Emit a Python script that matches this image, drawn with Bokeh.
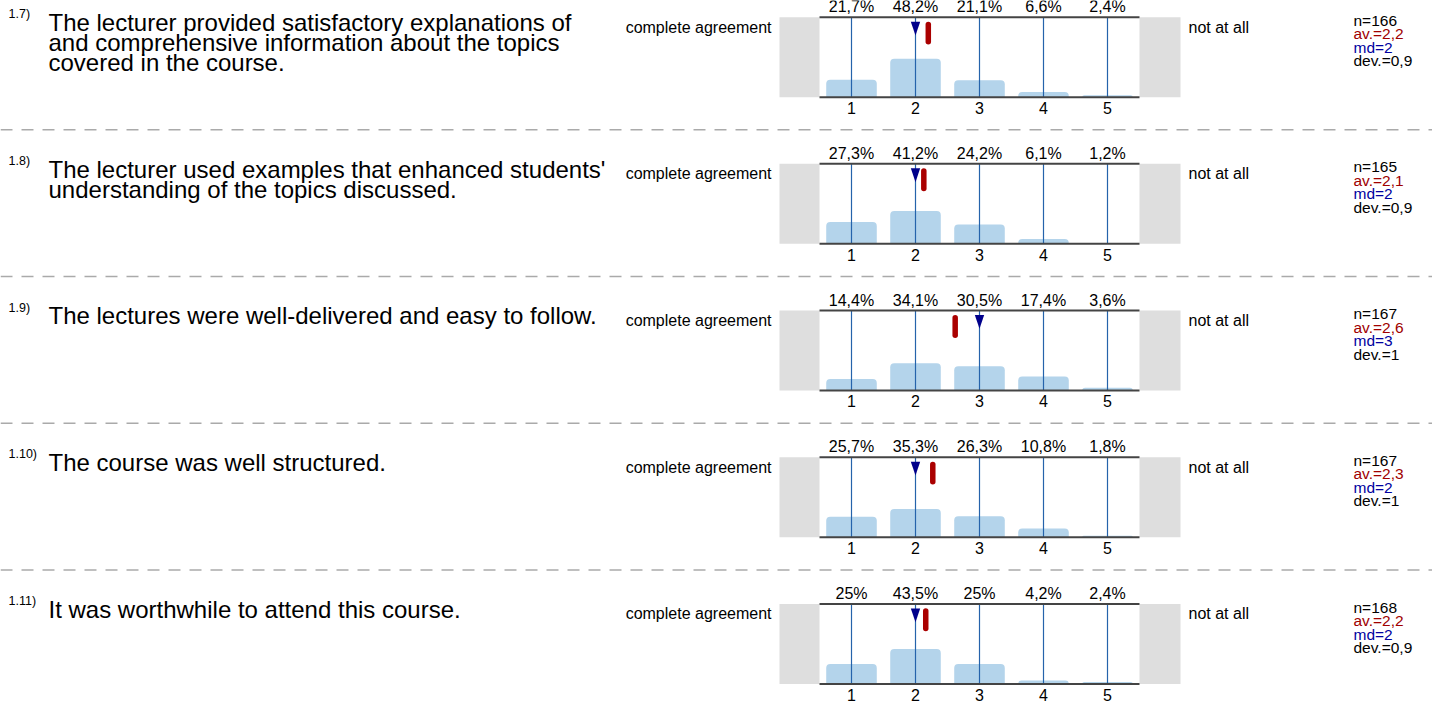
from bokeh.plotting import figure
from bokeh.models import Range1d
from bokeh.core.properties import value
from bokeh.embed import file_html
from bokeh.resources import INLINE

# ---------------- data ----------------
categories = [1, 2, 3, 4, 5]
tick_labels = ["1", "2", "3", "4", "5"]

question_numbers = ["1.7)", "1.8)", "1.9)", "1.10)", "1.11)"]
question_lines = [
    ["The lecturer provided satisfactory explanations of",
     "and comprehensive information about the topics",
     "covered in the course."],
    ["The lecturer used examples that enhanced students'",
     "understanding of the topics discussed."],
    ["The lectures were well-delivered and easy to follow."],
    ["The course was well structured."],
    ["It was worthwhile to attend this course."],
]

pct_q7 = [21.7, 48.2, 21.1, 6.6, 2.4]
pct_q8 = [27.3, 41.2, 24.2, 6.1, 1.2]
pct_q9 = [14.4, 34.1, 30.5, 17.4, 3.6]
pct_q10 = [25.7, 35.3, 26.3, 10.8, 1.8]
pct_q11 = [25.0, 43.5, 25.0, 4.2, 2.4]
percentages = [pct_q7, pct_q8, pct_q9, pct_q10, pct_q11]

pct_labels = [
    ["21,7%", "48,2%", "21,1%", "6,6%", "2,4%"],
    ["27,3%", "41,2%", "24,2%", "6,1%", "1,2%"],
    ["14,4%", "34,1%", "30,5%", "17,4%", "3,6%"],
    ["25,7%", "35,3%", "26,3%", "10,8%", "1,8%"],
    ["25%", "43,5%", "25%", "4,2%", "2,4%"],
]

n_counts = [166, 165, 167, 167, 168]
averages = [2.2, 2.13, 2.62, 2.27, 2.16]
average_labels = ["2,2", "2,1", "2,6", "2,3", "2,2"]
medians = [2, 2, 3, 2, 2]
deviation_labels = ["0,9", "0,9", "1", "1", "0,9"]

left_pole = "complete agreement"
right_pole = "not at all"

# ---------------- layout constants ----------------
W, H = 1432, 701
ROW_TOP0 = 16.7        # pixel y of first plot's top line
PITCH = 146.67         # row pitch in pixels
PLOT_H = 80.0          # plot height in pixels (0..100 %)
PX_PER_PCT = PLOT_H / 100.0
CAT1_PX = 851.0        # pixel x of category 1
CAT_W = 64.0           # pixels per category

FONT = "Liberation Sans"
MID = 0.3465           # em-box middle above baseline (fraction of font size)


def xd(px):
    return 1 + (px - CAT1_PX) / CAT_W


def yd(off):
    """offset in pixels below the row's top line -> row data units"""
    return 100 - off / PX_PER_PCT


def yt(baseline_off, size):
    """text placed by its middle, given the wanted baseline offset"""
    return yd(baseline_off - MID * size)


p = figure(width=W, height=H,
           x_range=Range1d(xd(0), xd(W)), y_range=Range1d(0, H),
           x_axis_type=None, y_axis_type=None,
           output_backend="svg", toolbar_location=None,
           min_border=0, outline_line_color=None)
p.background_fill_color = "white"
p.border_fill_color = "white"

ranges = {}
for i in range(5):
    B = ROW_TOP0 + i * PITCH + PLOT_H
    ranges[f"r{i}"] = Range1d((B - H) / PX_PER_PCT, B / PX_PER_PCT)
p.extra_y_ranges = ranges

txt = dict(text_font=value(FONT), text_baseline="middle")

S_MAIN, S_LAB, S_STAT, S_SUP = 24, 16, 15.5, 12.5

for i in range(5):
    rn = f"r{i}"
    pcts = percentages[i]

    # separator above rows 2..5
    if i > 0:
        p.line(x=[xd(0), xd(W)], y=[yd(-34.0)] * 2, y_range_name=rn,
               line_color="#aaaaaa", line_width=1.5, line_dash="12 9")

    # grey side boxes
    p.quad(left=[xd(779), xd(1139)], right=[xd(819), xd(1180)],
           bottom=[0, 0], top=[100, 100], y_range_name=rn,
           fill_color="#dedede", line_color=None)

    # bars
    p.vbar(x=categories, top=pcts, bottom=0, width=0.79, y_range_name=rn,
           fill_color="#b4d4eb", line_color=None, border_radius=(4, 4, 0, 0))

    # vertical category lines
    p.segment(x0=categories, y0=[0] * 5, x1=categories, y1=[100] * 5,
              y_range_name=rn, line_color="#2563ab", line_width=1.2)

    # top / bottom lines
    p.segment(x0=[0.5, 0.5], y0=[100, 0], x1=[5.5, 5.5], y1=[100, 0],
              y_range_name=rn, line_color="#444444", line_width=2)

    # median triangle
    md = medians[i]
    p.patch(x=[md - 0.073, md + 0.073, md], y=[yd(4.5), yd(4.5), yd(18.3)],
            y_range_name=rn, fill_color="#00008b", line_color=None)

    # average marker
    av = averages[i]
    p.segment(x0=[av], y0=[yd(7.2)], x1=[av], y1=[yd(24.6)], y_range_name=rn,
              line_color="#aa0000", line_width=5.5, line_cap="round")

    # percent labels (above) and category labels (below)
    p.text(x=categories, y=[yt(-4.8, S_LAB)] * 5, text=pct_labels[i], y_range_name=rn,
           text_align="center", text_font_size=f"{S_LAB}px", text_color="#000000", **txt)
    p.text(x=categories, y=[yt(PLOT_H + 16.3, S_LAB)] * 5, text=tick_labels, y_range_name=rn,
           text_align="center", text_font_size=f"{S_LAB}px", text_color="#000000", **txt)

    # question number and text
    p.text(x=[xd(8)], y=[yt(1.5, S_SUP)], text=[question_numbers[i]], y_range_name=rn,
           text_align="left", text_font_size=f"{S_SUP}px", text_color="#000000", **txt)
    lines = question_lines[i]
    p.text(x=[xd(48)] * len(lines), y=[yt(13.5 + 20 * k, S_MAIN) for k in range(len(lines))],
           text=lines, y_range_name=rn, text_align="left",
           text_font_size=f"{S_MAIN}px", text_color="#000000", **txt)

    # poles
    p.text(x=[xd(771)], y=[yt(15.5, S_LAB)], text=[left_pole], y_range_name=rn,
           text_align="right", text_font_size=f"{S_LAB}px", text_color="#000000", **txt)
    p.text(x=[xd(1188)], y=[yt(15.5, S_LAB)], text=[right_pole], y_range_name=rn,
           text_align="left", text_font_size=f"{S_LAB}px", text_color="#000000", **txt)

    # statistics
    stats = [f"n={n_counts[i]}", f"av.={average_labels[i]}",
             f"md={medians[i]}", f"dev.={deviation_labels[i]}"]
    colors = ["#000000", "#a00000", "#0000a0", "#000000"]
    p.text(x=[xd(1353)] * 4, y=[yt(8.5 + 13.5 * k, S_STAT) for k in range(4)],
           text=stats, text_color=colors, y_range_name=rn, text_align="left",
           text_font_size=f"{S_STAT}px", **txt)

open("out.html", "w").write(file_html(p, INLINE))
